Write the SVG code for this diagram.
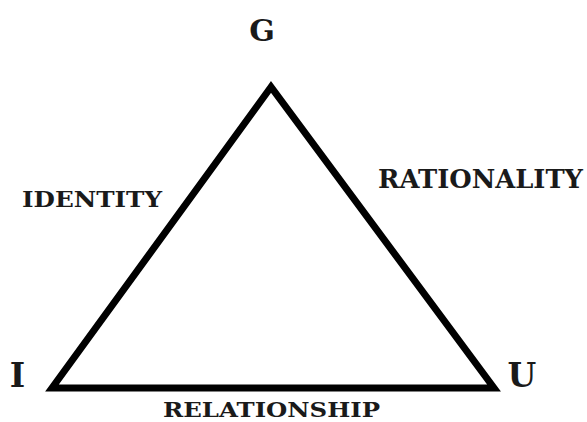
<svg xmlns="http://www.w3.org/2000/svg" width="587" height="422" viewBox="0 0 587 422">
<style>
.lbl{font-family:"DejaVu Serif","Liberation Serif",serif;font-weight:bold;fill:#1a1a1a}
.edge{fill:none;stroke:#000;stroke-width:7;stroke-linejoin:miter}
</style>
<rect width="587" height="422" fill="#fff"/>
<g id="connectors">
<polygon class="edge" points="271,87 52,388 494,388"/>
</g>
<g id="node-G"><text class="lbl" x="262" y="41" font-size="30" text-anchor="middle">G</text></g>
<g id="node-I"><text class="lbl" x="17.5" y="387" font-size="33" text-anchor="middle">I</text></g>
<g id="node-U"><text class="lbl" x="522" y="387" font-size="33" text-anchor="middle">U</text></g>
<g id="label-identity"><text class="lbl" x="22" y="207" font-size="23" textLength="140" lengthAdjust="spacingAndGlyphs">IDENTITY</text></g>
<g id="label-rationality"><text class="lbl" x="378" y="188" font-size="26" textLength="205" lengthAdjust="spacingAndGlyphs">RATIONALITY</text></g>
<g id="label-relationship"><text class="lbl" x="163" y="417" font-size="21" textLength="217" lengthAdjust="spacingAndGlyphs">RELATIONSHIP</text></g>
</svg>
